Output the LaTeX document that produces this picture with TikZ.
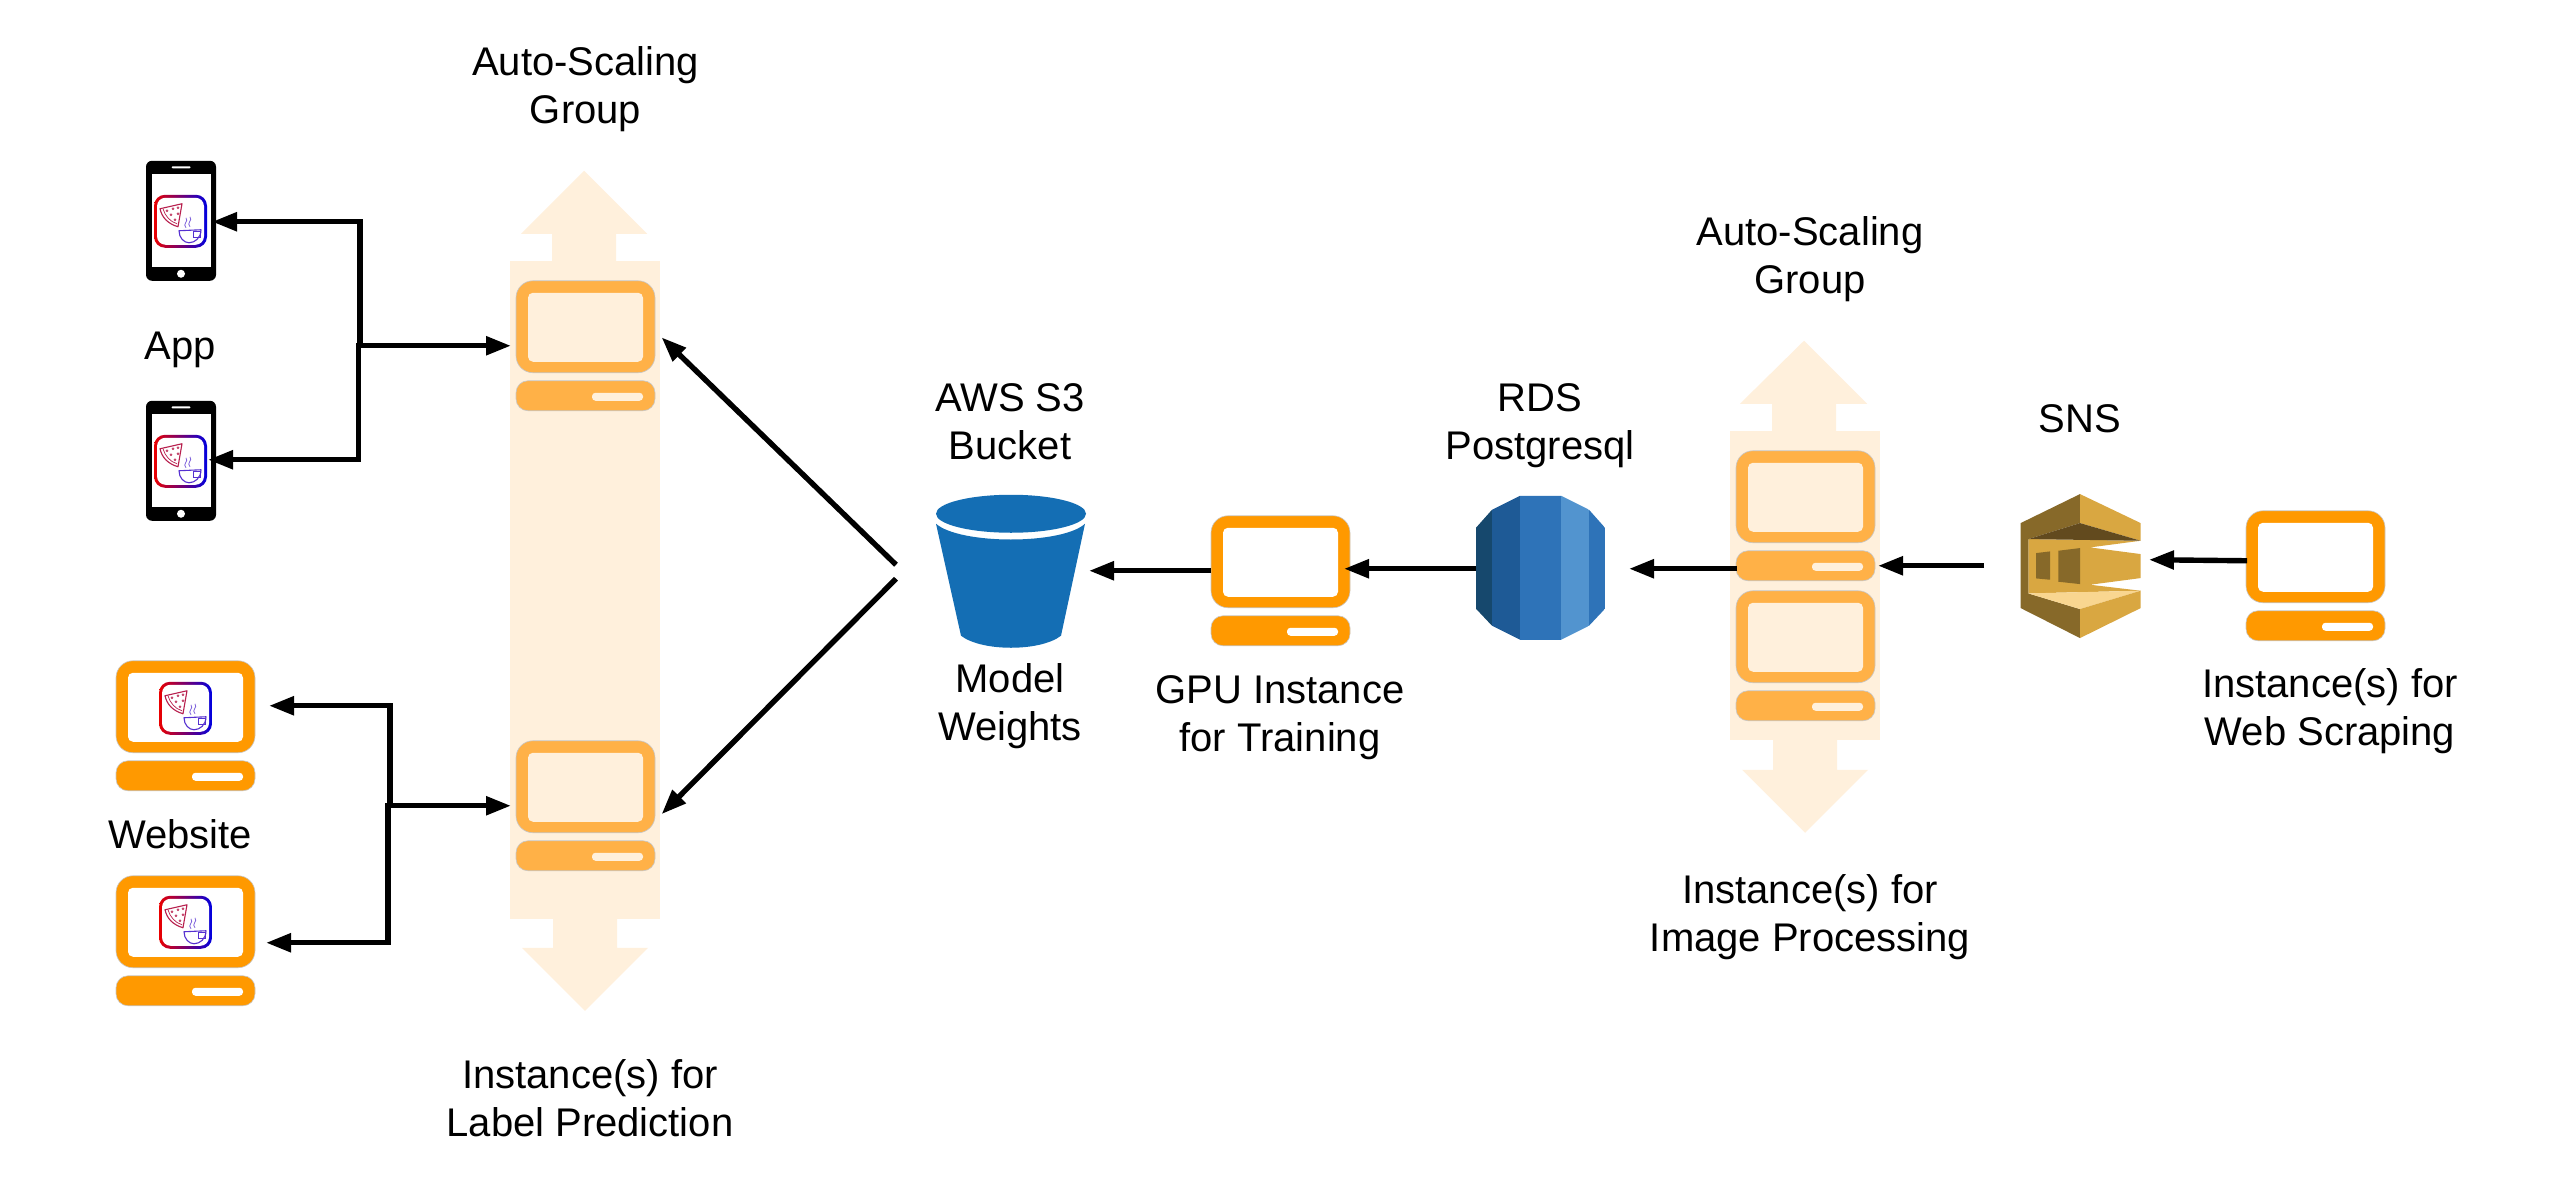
\documentclass[tikz,border=0pt]{standalone}
\usepackage{fontspec}
\setmainfont{Liberation Sans}
\usetikzlibrary{arrows.meta}
\definecolor{asgbg}{HTML}{FFF0DC}
\definecolor{srvorange}{HTML}{FF9900}
\definecolor{srvsoft}{HTML}{FFB147}
\definecolor{bucketblue}{HTML}{146EB4}
\definecolor{snsdark}{HTML}{876929}
\definecolor{snsmid}{HTML}{D9A741}
\definecolor{snsbrown}{HTML}{624A1E}
\definecolor{snslight}{HTML}{F9D690}
\definecolor{pizzared}{HTML}{B8204E}
\definecolor{cupblue}{HTML}{5530D0}
\tikzset{
  conn/.style={line width=5.4pt,line join=miter,shorten >=-2pt,-{Triangle[length=25pt,width=18pt]}},
  lbl/.style={align=center,font=\fontsize{40}{48}\selectfont,inner sep=0pt},
  asgshape/.style={fill=asgbg},
}
% server icon: x, y, main colour, hole colour
\newcommand{\srvicon}[4]{%
  \begin{scope}[shift={(#1,#2)}]
    \filldraw[fill=#3,draw=black!22,line width=0.6pt,rounded corners=17pt] (0,0) rectangle (139,92);
    \fill[#4,rounded corners=5pt] (12,12) rectangle (127,81);
    \filldraw[fill=#3,draw=black!22,line width=0.6pt,rounded corners=12pt] (0,100) rectangle (139,130);
    \fill[#4,rounded corners=3.5pt] (76,112) rectangle (127,120);
  \end{scope}}
% app logo
\newcommand{\applogo}[2]{%
  \begin{scope}[shift={(#1,#2)}]
    \shade[rounded corners=11pt,left color=red!92!black,right color=blue!88!black] (0,0) rectangle (53,53);
    \fill[white,rounded corners=8.5pt] (3,3) rectangle (50,50);
    \draw[pizzared,line width=1.1pt,line join=round] (28,9) -- (6,14) .. controls (8,23) and (14,29) .. (24,32) -- cycle;
    \draw[pizzared,line width=0.7pt] (9,14) .. controls (11,21) and (16,27) .. (23,29);
    \foreach \dx/\dy in {13/16,19/14,24/13,17/20,24/19,21/25}{\draw[pizzared,line width=0.6pt] (\dx,\dy) circle (1pt);}
    \draw[cupblue,line width=1.1pt,line join=round] (25,36) -- (47,35) .. controls (47,43) and (41,48) .. (35,48) .. controls (30,48) and (25,43) .. (25,36) -- cycle;
    \draw[cupblue,line width=0.7pt] (39,37) rectangle (46,43);
    \draw[cupblue!75,line width=0.8pt] (32,33) .. controls (28,29) and (35,27) .. (32,23);
    \draw[cupblue!75,line width=0.8pt] (36,32) .. controls (32,28) and (39,26) .. (36,22);
  \end{scope}}
% phone
\newcommand{\phoneicon}[2]{%
  \begin{scope}[shift={(#1,#2)}]
    \fill[black,rounded corners=6pt] (0,0) rectangle (70,120);
    \fill[white] (5.5,13) rectangle (64.5,106);
    \fill[white,rounded corners=1pt] (25.5,5.5) rectangle (44.5,7.5);
    \fill[white] (35,113) circle (4pt);
  \end{scope}}
\begin{document}
\begin{tikzpicture}[x=1pt,y=-1pt]
\useasboundingbox (0,-0.75) rectangle (2560,1182.25);
\fill[white] (0,-0.75) rectangle (2560,1182.25);

% left auto-scaling group
\fill[asgshape] (510,260) rectangle (660,918);
\fill[asgshape] (552,261) -- (552,233) -- (521,233) -- (584,170) -- (647,233) -- (616,233) -- (616,261) -- cycle;
\fill[asgshape] (553,917) -- (553,947) -- (522,947) -- (585,1010) -- (648,947) -- (617,947) -- (617,917) -- cycle;
\srvicon{516}{280}{srvsoft}{asgbg}
\srvicon{516}{740}{srvsoft}{asgbg}

% right auto-scaling group
\fill[asgshape] (1730,430) rectangle (1880,739);
\fill[asgshape] (1772,431) -- (1772,403) -- (1740,403) -- (1804,340) -- (1867,403) -- (1836,403) -- (1836,431) -- cycle;
\fill[asgshape] (1773,738) -- (1773,769) -- (1742,769) -- (1805,832) -- (1868,769) -- (1837,769) -- (1837,738) -- cycle;
\srvicon{1736}{450}{srvsoft}{asgbg}
\srvicon{1736}{590}{srvsoft}{asgbg}

% plain instances
\srvicon{116}{660}{srvorange}{white}
\srvicon{116}{875}{srvorange}{white}
\srvicon{1211}{515}{srvorange}{white}
\srvicon{2246}{510}{srvorange}{white}

% phones and logos
\phoneicon{146}{160}
\phoneicon{146}{400}
\applogo{154}{194}
\applogo{154}{434}
\applogo{159}{681}
\applogo{159}{895}

% S3 bucket
\fill[bucketblue] (1011,513) ellipse (75pt and 19pt);
\fill[bucketblue] (936,523) .. controls (960,544) and (1062,544) .. (1085,523)
  -- (1061,635) .. controls (1040,651) and (982,651) .. (961,635) -- cycle;

% RDS
\begin{scope}
  \clip (1520,495) -- (1561,495) -- (1589,509) -- (1605,527) -- (1605,608) -- (1589,625) -- (1561,639)
        -- (1520,639) -- (1492,625) -- (1476,608) -- (1476,527) -- (1492,509) -- cycle;
  \fill[fill={rgb,255:red,22;green,72;blue,109}] (1476,490) rectangle (1492,645);
  \fill[fill={rgb,255:red,30;green,90;blue,150}] (1492,490) rectangle (1520,645);
  \fill[fill={rgb,255:red,46;green,115;blue,184}] (1520,490) rectangle (1561,645);
  \fill[fill={rgb,255:red,82;green,148;blue,207}] (1561,490) rectangle (1589,645);
  \fill[fill={rgb,255:red,46;green,115;blue,184}] (1589,490) rectangle (1605,645);
\end{scope}

% SNS
\begin{scope}[shift={(2000,480)},x=0.3333pt,y=-0.3333pt]
  \fill[snsmid] (85,175) -- (422,180) -- (270,200) -- (422,220) -- (422,292) -- (270,312) -- (422,330) -- (85,338) -- cycle;
  \fill[snsdark] (240,40) -- (62,127) -- (62,382) -- (240,472) -- (240,385) -- (85,338) -- (85,175) -- (240,127) -- cycle;
  \fill[snsmid] (240,40) -- (422,127) -- (422,180) -- (240,127) -- cycle;
  \fill[snsbrown] (240,127) -- (422,180) -- (85,175) -- cycle;
  \fill[snslight] (85,338) -- (422,330) -- (240,385) -- cycle;
  \fill[snsmid] (240,385) -- (422,330) -- (422,382) -- (240,472) -- cycle;
  \fill[snsdark] (108,217) -- (150,212) -- (150,297) -- (108,293) -- cycle;
  \fill[snsdark] (175,210) -- (240,202) -- (240,310) -- (175,303) -- cycle;
\end{scope}

% connector end points
\coordinate (phoneA) at (214,221);
\coordinate (phoneB) at (210,459);
\coordinate (appUp) at (360,345);
\coordinate (appDn) at (358.5,342.5);
\coordinate (appJoin) at (357,345);
\coordinate (asgA) at (509,345);
\coordinate (webA) at (271,705);
\coordinate (webB) at (268,942);
\coordinate (webUp) at (390,805);
\coordinate (webDn) at (388,802.5);
\coordinate (webJoin) at (387,805);
\coordinate (asgB) at (509,805);
\coordinate (splitA) at (896,564);
\coordinate (splitB) at (896,578);
\coordinate (labelTop) at (663,338);
\coordinate (labelBot) at (663,812);
\coordinate (gpuOut) at (1211,570);
\coordinate (bucketIn) at (1091,570);
\coordinate (rdsOut) at (1476,568);
\coordinate (gpuIn) at (1346,568);
\coordinate (imgOut) at (1737,568);
\coordinate (rdsIn) at (1631,568);
\coordinate (snsOut) at (1984,565);
\coordinate (imgIn) at (1880,565);
\coordinate (scrapeOut) at (2247,560);
\coordinate (snsIn) at (2151,559);

% connectors
\draw[conn] (appUp) |- (phoneA);
\draw[conn] (appDn) |- (phoneB);
\draw[conn] (appJoin) -- (asgA);
\draw[conn] (webUp) |- (webA);
\draw[conn] (webDn) |- (webB);
\draw[conn] (webJoin) -- (asgB);
\draw[conn] (splitA) -- (labelTop);
\draw[conn] (splitB) -- (labelBot);
\draw[conn] (gpuOut) -- (bucketIn);
\draw[conn] (rdsOut) -- (gpuIn);
\draw[conn] (imgOut) -- (rdsIn);
\draw[conn] (snsOut) -- (imgIn);
\draw[conn] (scrapeOut) -- (snsIn);

% labels
\node[lbl] (tAsgL) at (585.5,88.75) {Auto-Scaling\\Group};
\node[lbl] (tApp) at (180,348.75) {App};
\node[lbl] (tWeb) at (180,833.75) {Website};
\node[lbl] (tPred) at (590,1097.25) {Instance(s) for\\Label Prediction};
\node[lbl] (tS3) at (1010,421.25) {AWS S3\\Bucket};
\node[lbl] (tWeights) at (1010,705.75) {Model\\Weights};
\node[lbl] (tGpu) at (1280,717.25) {GPU Instance\\for Training};
\node[lbl] (tRds) at (1540,425.25) {RDS\\Postgresql};
\node[lbl] (tAsgR) at (1810,258.75) {Auto-Scaling\\Group};
\node[lbl] (tImg) at (1810,916.75) {Instance(s) for\\Image Processing};
\node[lbl] (tSns) at (2080,417.75) {SNS};
\node[lbl] (tScrape) at (2330,710.25) {Instance(s) for\\Web Scraping};
\end{tikzpicture}
\end{document}
